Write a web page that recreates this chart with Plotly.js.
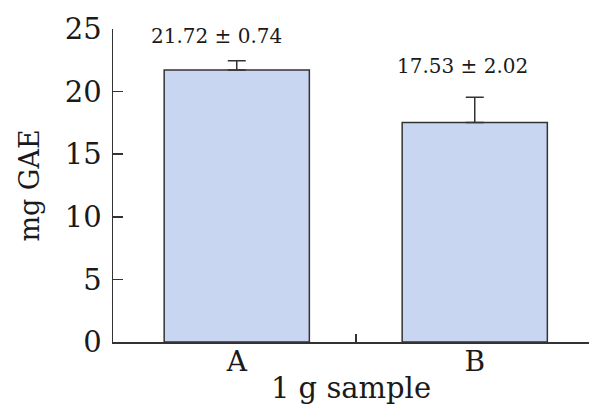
<!DOCTYPE html>
<html>
<head>
<meta charset="utf-8">
<script src="https://cdn.plot.ly/plotly-3.0.1.min.js"></script>
<style>html,body{margin:0;padding:0;background:#fff;}#chart{width:589px;height:410px;}</style>
</head>
<body>
<div id="chart"></div>
<script>
const categories = ['A', 'B'];
const values = [21.72, 17.53];
const errors = [0.74, 2.02];
const labels = ['21.72 ± 0.74', '17.53 ± 2.02'];
const yTicks = [0, 5, 10, 15, 20, 25];

const xpos = categories.map((c, i) => i);
const serif = 'DejaVu Serif, serif';

const trace = {
  type: 'bar',
  x: xpos,
  y: values,
  width: 0.61,
  marker: {color: '#c8d6f2', line: {color: '#333333', width: 1.5}},
  error_y: {type: 'data', symmetric: false, array: errors, arrayminus: errors.map(() => 0),
            color: '#333333', thickness: 1.5, width: 9},
  hoverinfo: 'none'
};
const dummy = {type: 'scatter', x: [0.5], y: [0], xaxis: 'x2', mode: 'markers',
  marker: {opacity: 0}, hoverinfo: 'none', showlegend: false};

const annotations = labels.map((t, i) => ({
  x: xpos[i], y: values[i] + errors[i], xref: 'x', yref: 'y', xanchor: 'center',
  text: t, showarrow: false, yanchor: 'bottom', xshift: [-20, -12][i], yshift: [11, 17][i],
  font: {family: serif, size: 20, color: '#1a1a1a'}
}));

const layout = {
  width: 589, height: 410,
  margin: {l: 113, r: 0, t: 29, b: 68},
  paper_bgcolor: '#fff', plot_bgcolor: '#fff',
  showlegend: false,
  font: {family: serif, color: '#1a1a1a'},
  xaxis: {
    range: [-0.52, 1.48], tickvals: xpos, ticktext: categories, ticks: '',
    showline: true, linecolor: '#333', linewidth: 1.5, showgrid: false, zeroline: false,
    tickfont: {family: serif, size: 28, color: '#1a1a1a'}, ticklabelstandoff: -6,
    title: {text: '1 g sample', font: {family: serif, size: 29, color: '#1a1a1a'}, standoff: 0}
  },
  xaxis2: {
    overlaying: 'x', range: [-0.52, 1.48], tickvals: [0.5], ticks: 'inside', ticklen: 8,
    tickcolor: '#333', tickwidth: 1.5, showticklabels: false, showgrid: false, zeroline: false,
    side: 'bottom', anchor: 'y'
  },
  yaxis: {
    range: [0, 25], tickvals: yTicks, ticks: 'inside', ticklen: 10, tickwidth: 1.5, tickcolor: '#333',
    showline: true, linecolor: '#333', linewidth: 1.5, showgrid: false, zeroline: false,
    tickfont: {family: serif, size: 29, color: '#1a1a1a'}, ticklabelstandoff: 4,
    title: {text: 'mg GAE', font: {family: serif, size: 27, color: '#1a1a1a'}, standoff: 17}
  },
  annotations: annotations
};

Plotly.newPlot('chart', [trace, dummy], layout, {displayModeBar: false, staticPlot: true});
</script>
</body>
</html>
